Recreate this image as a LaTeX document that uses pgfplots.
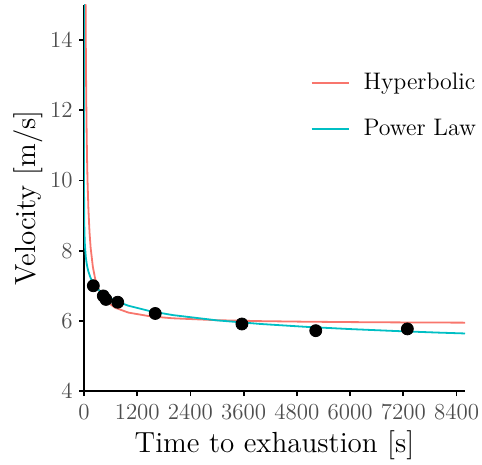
\documentclass[border=0pt]{standalone}
\usepackage{pgfplots}
\pgfplotsset{compat=1.18}
\definecolor{hypred}{HTML}{F8766D}
\definecolor{powcyan}{HTML}{00BFC4}
\definecolor{ticktext}{HTML}{4D4D4D}
\begin{document}
\begin{tikzpicture}
\begin{axis}[
  name=ax,
  scale only axis,
  width=190.5bp, height=193bp,
  xmin=0, xmax=8590, ymin=4, ymax=15,
  axis lines*=left,
  axis line style={black, line width=0.9bp},
  tick align=outside,
  major tick length=2.5bp,
  tick style={black, line width=0.9bp},
  xtick={0,1200,...,8400},
  ytick={4,6,...,14},
  xticklabels={0,1200,2400,3600,4800,6000,7200,8400},
  yticklabels={4,6,8,10,12,14},
  tick label style={font=\fontsize{11.5}{13}\selectfont, text=ticktext},
  xticklabel style={inner xsep=0bp, inner ysep=4bp},
  yticklabel style={inner xsep=3bp, inner ysep=0bp},
  xlabel={Time to exhaustion [s]},
  ylabel={Velocity [m/s]},
  every axis x label/.style={at={(axis description cs:0.5,-0.140)}, anchor=center, font=\fontsize{14.6}{17}\selectfont},
  every axis y label/.style={at={(axis description cs:-0.147,0.5)}, rotate=90, anchor=center, font=\fontsize{14.6}{17}\selectfont},
  legend style={draw=none, fill=none, at={(0.578,0.738)}, anchor=west,
    font=\fontsize{12}{14}\selectfont, row sep=11bp,
    nodes={inner xsep=2bp, inner ysep=0bp, text height=9bp, text depth=3bp}},
  legend cell align=left,
  legend image code/.code={\draw[#1] (0bp,0bp) -- (18.5bp,0bp); \path[draw=none] (0bp,0bp) -- (24bp,0bp);},
  clip=true,
]
\addplot[hypred, line width=0.9bp, no markers] coordinates {
(34,15.469) (40,14.035) (50,12.41) (60,11.327) (70,10.553) (80,9.973)
(100,9.16) (125,8.51) (150,8.077) (200,7.535) (250,7.21) (300,6.993)
(400,6.7225) (500,6.56) (700,6.374) (1000,6.235) (1500,6.127) (2000,6.0725)
(3000,6.018) (4000,5.991) (5000,5.975) (6000,5.964) (7000,5.956) (8000,5.951) (8590,5.948)
};
\addlegendentry{Hyperbolic}
\addplot[powcyan, line width=0.9bp, no markers] coordinates {
(0.0005,15.58) (0.001,14.94) (0.01,12.98) (0.1,11.28) (1,9.8) (5,8.884) (10,8.516)
(20,8.163) (40,7.825) (60,7.634) (80,7.502) (100,7.400) (150,7.219) (200,7.093)
(300,6.921) (400,6.800) (500,6.708) (700,6.572) (1000,6.431) (1500,6.273)
(2000,6.164) (3000,6.013) (4000,5.909) (5000,5.829) (6000,5.765) (7000,5.711)
(8000,5.664) (8590,5.640)
};
\addlegendentry{Power Law}
\addplot[only marks, mark=*, mark size=3bp, black] coordinates {
(210,7.00) (435,6.71) (495,6.61) (760,6.53) (1606,6.21) (3560,5.91) (5225,5.72) (7290,5.77)
};
\end{axis}
\pgfresetboundingbox
\path ([xshift=-42bp,yshift=-36.5bp]ax.south west) rectangle ([xshift=8.5bp,yshift=2.5bp]ax.north east);
\end{tikzpicture}
\end{document}
